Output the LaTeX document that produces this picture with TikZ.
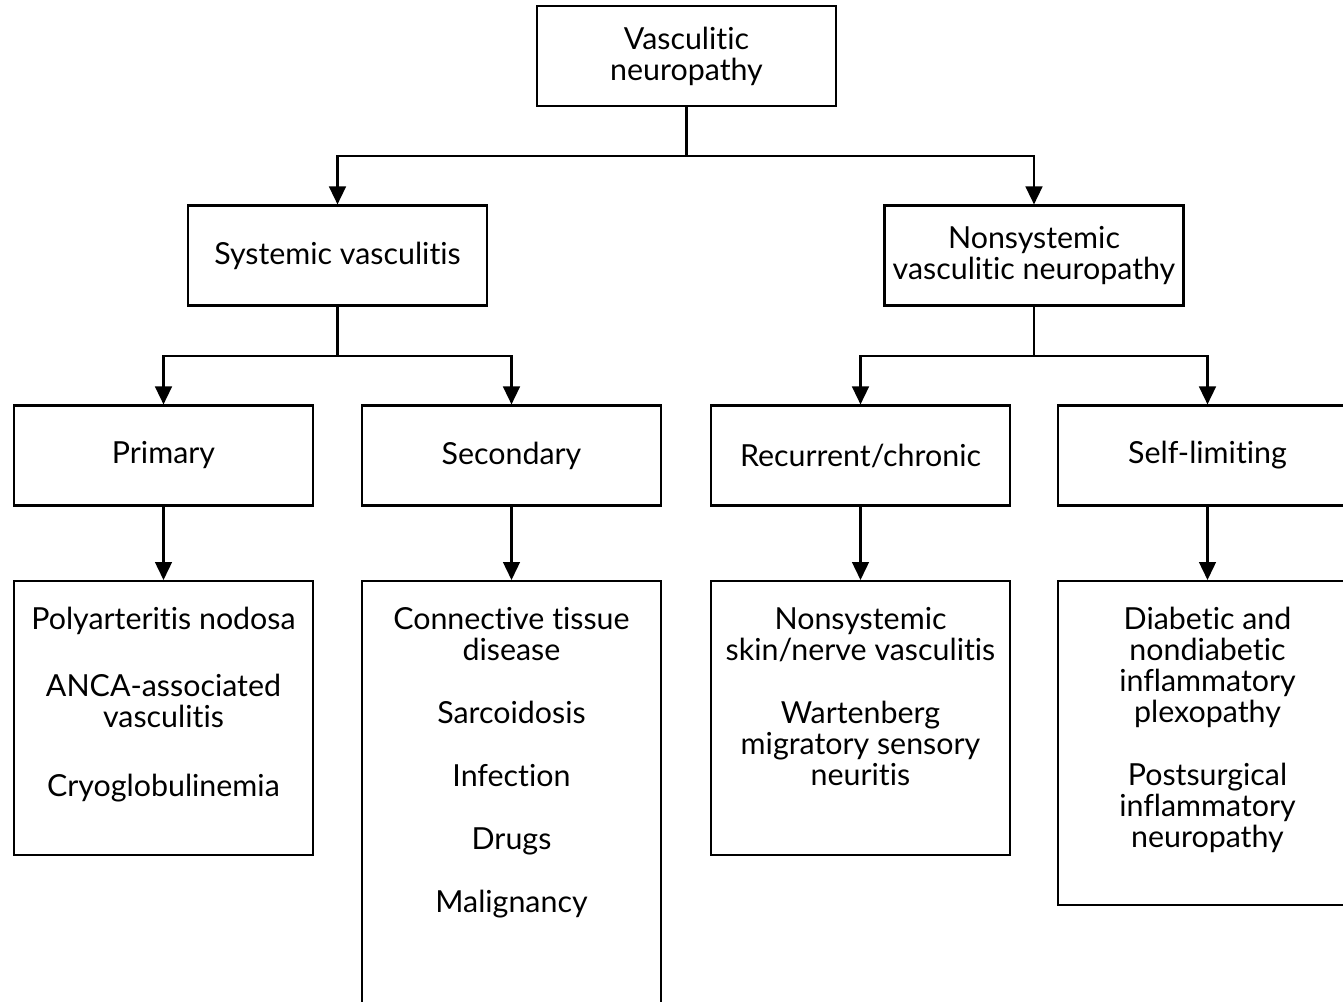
\documentclass[tikz,border=0pt]{standalone}
\usepackage{fontspec}
\setmainfont{Lato}[Ligatures=NoCommon]
\usetikzlibrary{positioning}
\usetikzlibrary{arrows.meta}

\tikzset{
	box/.style={draw, line width=1.5pt, minimum width=7.475cm, minimum height=2.5cm, align=center, inner sep=0pt},
	listbox/.style={draw, line width=1.5pt, minimum width=7.475cm, anchor=north, inner sep=0pt},
	listtext/.style={anchor=north, align=center, inner sep=0pt, yshift=-0.68cm},
	arrow/.style={line width=1.5pt, -{Triangle[length=0.45cm, width=0.42cm]}}
}

\begin{document}
\begin{tikzpicture}[x=0.025cm, y=-0.025cm, font=\fontsize{21.6}{22}\selectfont]
				\useasboundingbox (0,0) rectangle (1343,1001);
				\clip (0,0) rectangle (1343,1001);
				%Nodes
				\node[box] (top)  at (686.5,56)    {Vasculitic\\neuropathy};
				\node[box] (sys)  at (337.5,255.5) {Systemic vasculitis};
				\node[box] (non)  at (1034,255.5)  {Nonsystemic\\vasculitic neuropathy};
				\node[box] (pri)  at (163.5,455.5) {Primary};
				\node[box] (sec)  at (511.5,455.5) {Secondary};
				\node[box] (rec)  at (860.5,455.5) {Recurrent/chronic};
				\node[box] (self) at (1207.5,455.5) {Self-limiting};

				\node[listbox, minimum height=6.85cm] (prilist)  at (163.5,580)  {};
				\node[listbox, minimum height=11.5cm] (seclist)  at (511.5,580)  {};
				\node[listbox, minimum height=6.85cm] (reclist)  at (860.5,580)  {};
				\node[listbox, minimum height=8.1cm]  (selflist) at (1207.5,580) {};

				\node[listtext] (pritext) at (prilist.north) {Polyarteritis nodosa\\[0.9cm]ANCA-associated\\vasculitis\\[0.95cm]Cryoglobulinemia};
				\node[listtext] (sectext) at (seclist.north) {Connective tissue\\disease\\[0.8cm]Sarcoidosis\\[0.8cm]Infection\\[0.8cm]Drugs\\[0.8cm]Malignancy};
				\node[listtext] (rectext) at (reclist.north) {Nonsystemic\\skin/nerve vasculitis\\[0.8cm]Wartenberg\\migratory sensory\\neuritis};
				\node[listtext] (selftext) at (selflist.north) {Diabetic and\\nondiabetic\\inflammatory\\plexopathy\\[0.8cm]Postsurgical\\inflammatory\\neuropathy};

				%Lines
				\draw[arrow] (top.south) -- ++(0,49) -| (sys.north);
				\draw[arrow] (top.south) -- ++(0,49) -| (non.north);
				\draw[arrow] (sys.south) -- ++(0,49) -| (pri.north);
				\draw[arrow] (sys.south) -- ++(0,49) -| (sec.north);
				\draw[arrow] (non.south) -- ++(0,49) -| (rec.north);
				\draw[arrow] (non.south) -- ++(0,49) -| (self.north);
				\draw[arrow] (pri.south) -- (prilist.north);
				\draw[arrow] (sec.south) -- (seclist.north);
				\draw[arrow] (rec.south) -- (reclist.north);
				\draw[arrow] (self.south) -- (selflist.north);
\end{tikzpicture}
\end{document}
